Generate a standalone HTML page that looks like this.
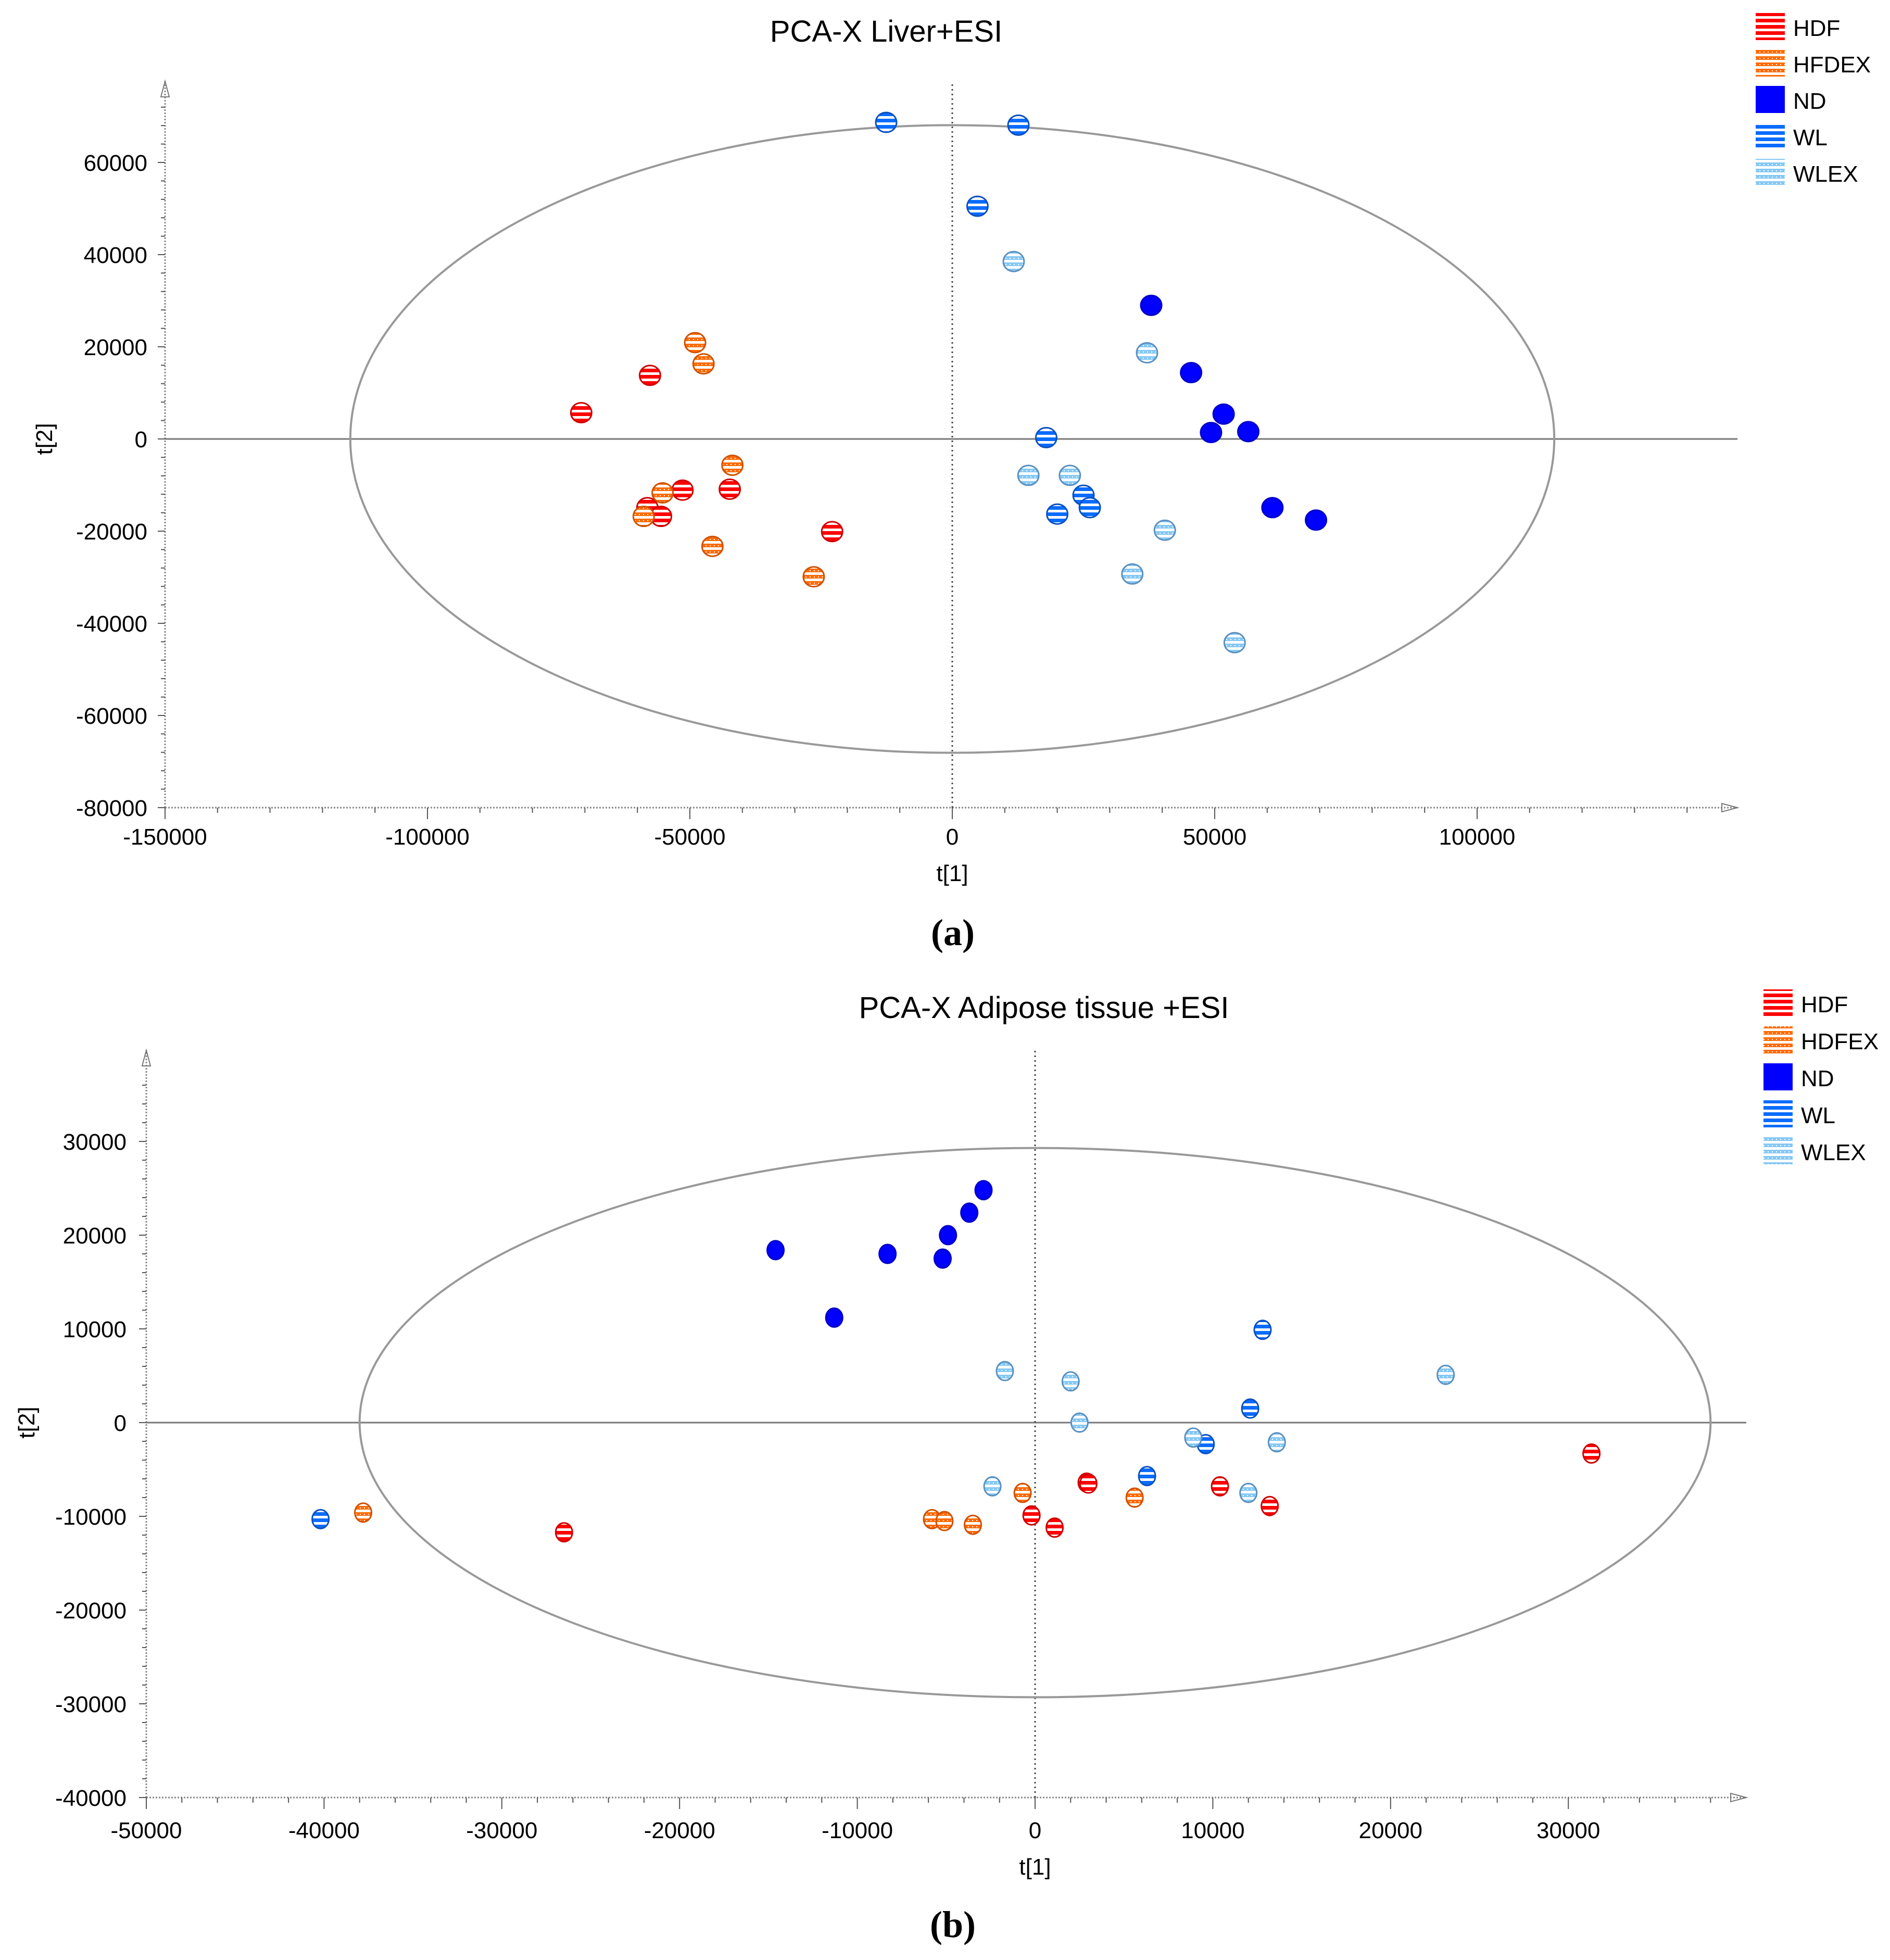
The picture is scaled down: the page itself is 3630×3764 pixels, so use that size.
<!DOCTYPE html>
<html><head><meta charset="utf-8">
<style>
html,body{margin:0;padding:0;background:#fff;}
svg{display:block;}
text{font-family:"Liberation Sans","DejaVu Sans",sans-serif;}
text.cap{font-family:"Liberation Serif","DejaVu Serif",serif;}
</style></head>
<body>
<svg id="fig" width="3630" height="3764" viewBox="0 0 3630 3764" xmlns="http://www.w3.org/2000/svg">
<defs>
<pattern id="pHDF" width="8" height="12" patternUnits="userSpaceOnUse"><rect width="8" height="12" fill="#fff"/><rect y="0" width="8" height="7" fill="#ff0000"/></pattern>
<pattern id="pHFDEX" width="8" height="12" patternUnits="userSpaceOnUse"><rect width="8" height="12" fill="#fff"/><rect y="0" width="8" height="7" fill="#ff6a00"/><rect x="3" y="3" width="2" height="2" fill="#fff"/></pattern>
<pattern id="pWL" width="8" height="12" patternUnits="userSpaceOnUse"><rect width="8" height="12" fill="#fff"/><rect y="0" width="8" height="7" fill="#0a6cff"/></pattern>
<pattern id="pWLEX" width="8" height="12" patternUnits="userSpaceOnUse"><rect width="8" height="12" fill="#fff"/><rect y="0" width="8" height="7" fill="#85c8f5"/><rect x="3" y="3" width="2" height="2" fill="#fff"/></pattern>
</defs>
</svg>
<script>
// ---- Chart A data (Liver) ----
const groups = ['HDF','HFDEX','ND','WL','WLEX'];
const groupsB = ['HDF','HDFEX','ND','WL','WLEX'];
const aTicksX = [-150000,-100000,-50000,0,50000,100000];
const aTicksY = [-80000,-60000,-40000,-20000,0,20000,40000,60000];
const aHDF_x = [-70700,-57600,-51400,-42400,-58100,-55500,-22900];
const aHDF_y = [5700,13800,-11100,-10900,-14900,-16800,-20100];
const aHFDEX_x = [-49000,-47400,-41900,-55200,-58800,-45700,-26400];
const aHFDEX_y = [20900,16300,-5700,-11700,-16800,-23300,-29900];
const aND_x = [37900,45500,51700,49300,56400,61000,69300];
const aND_y = [29000,14400,5400,1400,1600,-14900,-17600];
const aWL_x = [-12600,12600,4800,17900,25000,20000,26200];
const aWL_y = [68700,68100,50500,300,-12200,-16300,-14900];
const aWLEX_x = [11700,37100,14500,22400,40500,34300,53800];
const aWLEX_y = [38500,18700,-7900,-7900,-19800,-29300,-44200];
const aEllipse = [114700,68100];
// ---- Chart B data (Adipose) ----
const bTicksX = [-50000,-40000,-30000,-20000,-10000,0,10000,20000,30000];
const bTicksY = [-40000,-30000,-20000,-10000,0,10000,20000,30000];
const bHDF_x = [-26500,-200,1100,2900,3000,10400,13200,31300];
const bHDF_y = [-11700,-9900,-11200,-6400,-6500,-6800,-8900,-3300];
const bHDFEX_x = [-37800,-5800,-5100,-3500,-700,5600];
const bHDFEX_y = [-9600,-10300,-10500,-10900,-7500,-8000];
const bND_x = [-14600,-11300,-8300,-5200,-4900,-3700,-2900];
const bND_y = [18400,11200,18000,17500,20000,22400,24800];
const bWL_x = [-40200,12800,12100,6300,9600];
const bWL_y = [-10300,9900,1500,-5700,-2300];
const bWLEX_x = [-1700,2000,2500,-2400,8900,12000,13600,23100];
const bWLEX_y = [5500,4400,0,-6800,-1600,-7500,-2100,5100];
const bEllipse = [38000,29300];

const NS='http://www.w3.org/2000/svg';
const svg=document.getElementById('fig');
function mk(tag,attrs,parent){const e=document.createElementNS(NS,tag);for(const k in attrs)e.setAttribute(k,attrs[k]);(parent||svg).appendChild(e);return e;}
const fills={HDF:'url(#pHDF)',HFDEX:'url(#pHFDEX)',HDFEX:'url(#pHFDEX)',ND:'#0000ff',WL:'url(#pWL)',WLEX:'url(#pWLEX)'};
const strokes={HDF:'#d00000',HFDEX:'#d05000',HDFEX:'#d05000',ND:'#0000c8',WL:'#0a50c0',WLEX:'#5a90c0'};
const legFill={HDF:'url(#pHDF)',HFDEX:'url(#pHFDEX)',HDFEX:'url(#pHFDEX)',ND:'#0000ff',WL:'url(#pWL)',WLEX:'url(#pWLEX)'};

function chart(c){
  const g=mk('g',{});
  
  
  const X=v=>c.x0+(v-c.xmin)*c.kx, Y=v=>c.y0-(v-c.ymin)*c.ky;
  const t=mk('text',{x:c.titleX,y:c.titleY,'font-size':58,'text-anchor':'middle'},g);t.textContent=c.title;
  
  const ax=mk('line',{x1:X(c.xmin),y1:Y(c.ymin),x2:c.xEnd,y2:Y(c.ymin),stroke:'#888','stroke-width':3,'stroke-dasharray':'3 3'},g);
  
  const ay=mk('line',{x1:X(c.xmin),y1:Y(c.ymin),x2:X(c.xmin),y2:c.yTop,stroke:'#888','stroke-width':3,'stroke-dasharray':'3 3'},g);
  
  mk('path',{d:`M${c.xEnd-30},${Y(c.ymin)-8} L${c.xEnd},${Y(c.ymin)} L${c.xEnd-30},${Y(c.ymin)+8} Z`,fill:'none',stroke:'#777','stroke-width':2},g);
  mk('path',{d:`M${X(c.xmin)-8},${c.yTop+30} L${X(c.xmin)},${c.yTop} L${X(c.xmin)+8},${c.yTop+30} Z`,fill:'none',stroke:'#777','stroke-width':2},g);
  const zl=mk('line',{x1:X(c.xmin),y1:Y(0),x2:c.xEnd,y2:Y(0),stroke:'#777','stroke-width':3},g);
  
  const zv=mk('line',{x1:X(0),y1:Y(c.ymin),x2:X(0),y2:c.yTop,stroke:'#444','stroke-width':3,'stroke-dasharray':'3 6'},g);
  
  const dx=c.tx[1]-c.tx[0], dy=c.ty[1]-c.ty[0];
  for(let i=0;i<c.tx.length;i++){
    for(let k=0;k<5;k++){const v=c.tx[i]+k*dx/5;const px=X(v);if(px>c.xEnd-40)break;
      mk('line',{x1:px,y1:Y(c.ymin),x2:px,y2:Y(c.ymin)+(k==0?22:10),stroke:'#555','stroke-width':2},g);}
    const l=mk('text',{x:X(c.tx[i]),y:c.xLabY,'font-size':44,'text-anchor':'middle'},g);l.textContent=c.tx[i];
    
  }
  for(let i=0;i<c.ty.length;i++){
    for(let k=0;k<5;k++){const v=c.ty[i]+k*dy/5;const py=Y(v);if(py<c.yTop+40)break;
      mk('line',{x1:X(c.xmin),y1:py,x2:X(c.xmin)-(k==0?14:8),y2:py,stroke:'#555','stroke-width':2},g);}
    const l=mk('text',{x:c.yLabX,y:Y(c.ty[i])+16,'font-size':44,'text-anchor':'end'},g);l.textContent=c.ty[i];
    
  }
  const xt=mk('text',{x:X(0),y:c.xTitleY,'font-size':44,'text-anchor':'middle'},g);xt.textContent='t[1]';
  
  const yt=mk('text',{x:0,y:0,'font-size':44,'text-anchor':'middle',transform:`translate(${c.yTitleX},${Y(0)}) rotate(-90)`},g);yt.textContent='t[2]';
  
  const el=mk('ellipse',{cx:X(0),cy:Y(0),rx:c.ell[0]*c.kx,ry:c.ell[1]*c.ky,fill:'none',stroke:'#999','stroke-width':4},g);
  
  c.series.forEach(s=>{
    for(let i=0;i<s.x.length;i++){
      const p=mk('ellipse',{cx:X(s.x[i]),cy:Y(s.y[i]),rx:c.mr[0],ry:c.mr[1],fill:fills[s.name],stroke:strokes[s.name],'stroke-width':3},g);
      
      
    }
  });
  c.legNames.forEach((n,i)=>{
    const y=c.legY+i*c.legStep;
    const r=mk('rect',{x:c.legX,y:y,width:56,height:52,fill:legFill[n]},g);
    
    const lt=mk('text',{x:c.legX+72,y:y+44,'font-size':44},g);lt.textContent=n;
    
  });
  const cap=mk('text',{x:c.capX,y:c.capY,'font-size':72,'text-anchor':'middle','font-weight':'bold','class':'cap'},g);cap.textContent=c.cap;
  
}

chart({id:'chart-liver',title:'PCA-X Liver+ESI',titleX:1702,titleY:80,
  xmin:-150000,ymin:-80000,x0:317,y0:1551,kx:504/50000,ky:177/20000,xEnd:3337,yTop:156,
  tx:aTicksX,ty:aTicksY,xLabY:1622,yLabX:283,xTitleY:1692,yTitleX:100,ell:aEllipse,mr:[20,19],
  series:[{name:'HDF',x:aHDF_x,y:aHDF_y},{name:'HFDEX',x:aHFDEX_x,y:aHFDEX_y},{name:'WL',x:aWL_x,y:aWL_y},{name:'WLEX',x:aWLEX_x,y:aWLEX_y},{name:'ND',x:aND_x,y:aND_y}],
  legNames:groups,legX:3372,legY:25,legStep:70,cap:'(a)',capX:1830,capY:1815});
chart({id:'chart-adipose',title:'PCA-X Adipose tissue +ESI',titleX:2005,titleY:1955,
  xmin:-50000,ymin:-40000,x0:281,y0:3452,kx:341.4/10000,ky:180/10000,xEnd:3354,yTop:2017,
  tx:bTicksX,ty:bTicksY,xLabY:3530,yLabX:243,xTitleY:3600,yTitleX:66,ell:bEllipse,mr:[16,18],
  series:[{name:'HDF',x:bHDF_x,y:bHDF_y},{name:'HDFEX',x:bHDFEX_x,y:bHDFEX_y},{name:'WL',x:bWL_x,y:bWL_y},{name:'WLEX',x:bWLEX_x,y:bWLEX_y},{name:'ND',x:bND_x,y:bND_y}],
  legNames:groupsB,legX:3387,legY:1900,legStep:71,cap:'(b)',capX:1830,capY:3720});
</script>
</body></html>
